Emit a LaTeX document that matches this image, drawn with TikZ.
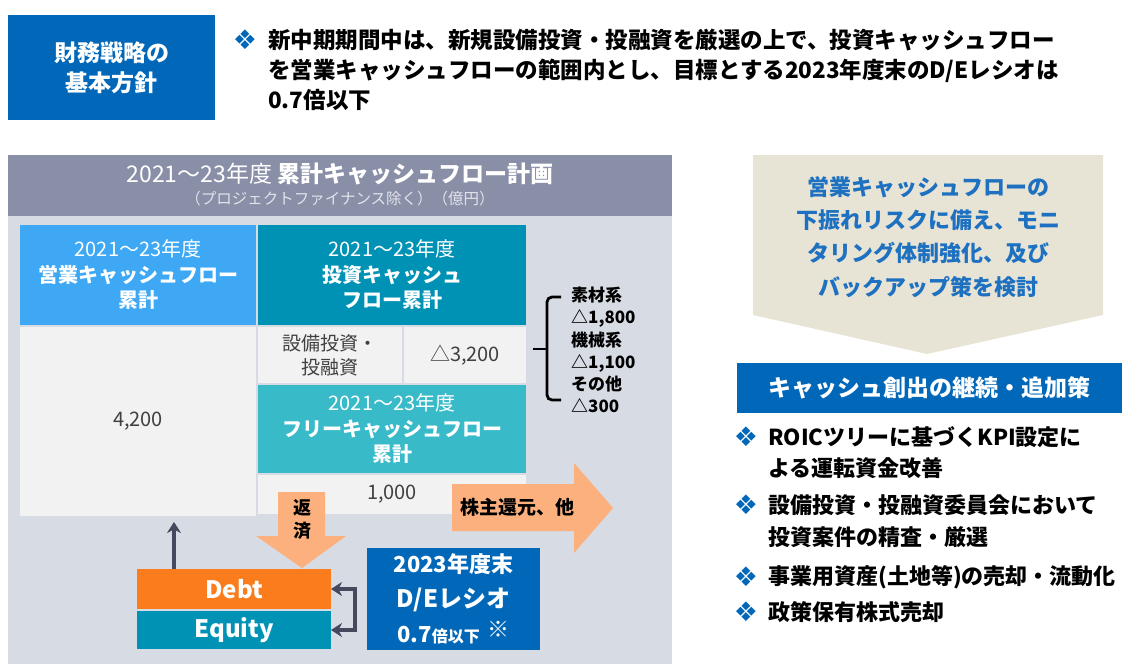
\documentclass[tikz,border=0pt]{standalone}
\usepackage{fontspec}
\setmainfont{Noto Sans CJK JP}
\newfontfamily\symfont{DejaVu Sans}
\usepackage{xcolor}
\usetikzlibrary{arrows.meta,positioning,calc}

\definecolor{mainblue}{RGB}{0,103,185}
\definecolor{panelgray}{RGB}{215,219,227}
\definecolor{headgray}{RGB}{138,143,168}
\definecolor{subgray}{RGB}{226,227,234}
\definecolor{opblue}{RGB}{62,168,245}
\definecolor{teal}{RGB}{0,146,180}
\definecolor{cyanbox}{RGB}{56,186,201}
\definecolor{cellgray}{RGB}{242,242,242}
\definecolor{valgray}{RGB}{64,64,64}
\definecolor{arrorange}{RGB}{251,176,125}
\definecolor{debtorange}{RGB}{250,124,28}
\definecolor{arrdark}{RGB}{69,73,94}
\definecolor{beige}{RGB}{232,228,213}
\definecolor{beigetext}{RGB}{30,112,192}

\begin{document}
\begin{tikzpicture}[
  x=1pt, y=-1pt,
  font=\fontsize{20}{26}\selectfont,
  >={Stealth[length=11pt, width=14pt]},
  cell/.style={anchor=north west, inner sep=0pt, outer sep=0pt, align=center},
  headbox/.style={cell, text=white, font=\fontsize{20}{25.5}\selectfont\bfseries},
  valbox/.style={cell, fill=cellgray, text=valgray},
  lbl/.style={inner sep=0pt, align=center},
  dia/.style={inner sep=0pt, text=mainblue, font=\symfont\fontsize{27}{27}\selectfont},
  item/.style={inner sep=0pt, anchor=west, align=left, font=\fontsize{22}{31.5}\selectfont\bfseries},
  darr/.style={line width=3.2pt, draw=arrdark},
  flowarrow/.style={fill=arrorange},
]
\useasboundingbox (0,0) rectangle (1124,664);
% 基本方針
\node[cell, fill=mainblue, text=white, minimum width=207pt, minimum height=105pt,
  font=\fontsize{23}{30}\selectfont\bfseries] (policy) at (8,15) {財務戦略の\\基本方針};
\node[dia] (pdia) at (245,40) {❖};
\node[item, font=\fontsize{22.5}{30}\selectfont\bfseries] (policytxt) at (268,70)
  {新中期期間中は、新規設備投資・投融資を厳選の上で、投資キャッシュフロー\\
   を営業キャッシュフローの範囲内とし、目標とする2023年度末のD/Eレシオは\\
   0.7倍以下};
% 累計キャッシュフロー計画
\node[cell, fill=panelgray, minimum width=664pt, minimum height=509pt] (panel) at (8,155) {};
\node[cell, fill=headgray, minimum width=664pt, minimum height=61pt] (planhead) at (8,155) {};
\node[lbl, text=white, font=\fontsize{23}{26}\selectfont] (plantitle) at (340,174)
  {2021～23年度 \textbf{累計キャッシュフロー計画}};
\node[lbl, text=subgray, font=\fontsize{15.5}{18}\selectfont, below=6pt of plantitle] (plansub)
  {（プロジェクトファイナンス除く）（億円）};
% 営業CF
\node[headbox, fill=opblue, minimum width=236pt, minimum height=100pt] (ophead) at (20,225)
  {{\mdseries 2021～23年度}\\営業キャッシュフロー\\累計};
\node[valbox, minimum width=236pt, minimum height=189pt] (opval) at (20,327) {4,200};
% 投資CF
\node[headbox, fill=teal, minimum width=268pt, minimum height=100pt] (invhead) at (258,225)
  {{\mdseries 2021～23年度}\\投資キャッシュ\\フロー累計};
\node[valbox, minimum width=144pt, minimum height=56pt, font=\fontsize{19}{24}\selectfont] (capexlbl) at (258,327)
  {設備投資・\\投融資};
\node[valbox, minimum width=122pt, minimum height=56pt] (capexval) at (404,327) {△3,200};
% フリーCF
\node[headbox, fill=cyanbox, minimum width=268pt, minimum height=88pt] (fcfhead) at (258,385)
  {{\mdseries 2021～23年度}\\フリーキャッシュフロー\\累計};
\node[valbox, minimum width=268pt, minimum height=39pt] (fcfval) at (258,475) {1,000};
% 内訳
\draw[line width=2.8pt, rounded corners=5pt] (561,297) -- (547,297) -- (547,400) -- (561,400);
\draw[line width=2.8pt] (547,349) -- (533,349);
\node[lbl, anchor=west, align=left, font=\fontsize{17}{22.3}\selectfont\bfseries] (breakdown) at (571,350)
  {素材系\\△1,800\\機械系\\△1,100\\その他\\△300};
% 株主還元・返済
\fill[flowarrow] (452,484) -- (574,484) -- (574,463) -- (613,508) -- (574,553) -- (574,531) -- (452,531) -- cycle;
\node[lbl, font=\fontsize{19}{24}\selectfont\bfseries] (ret) at (517,507) {株主還元、他};
\fill[flowarrow] (278,492) -- (325,492) -- (325,536) -- (346,536) -- (302,568) -- (256,536) -- (278,536) -- cycle;
\node[lbl, font=\fontsize{18}{23}\selectfont\bfseries] (repay) at (302,519) {返\\済};
% Debt / Equity
\node[cell, fill=debtorange, text=white, minimum width=194pt, minimum height=40pt,
  font=\fontsize{24}{28}\selectfont\bfseries] (debt) at (137,569) {Debt};
\node[cell, fill=teal, text=white, minimum width=194pt, minimum height=38pt,
  font=\fontsize{24}{28}\selectfont\bfseries] (equity) at (137,611) {Equity};
\coordinate (upx) at (174,0);
\coordinate (brk) at (355,0);
\draw[darr, ->] (debt.north -| upx) -- ([yshift=-6pt]opval.south -| upx);
\draw[darr, <->] (debt.east) -- (debt.east -| brk) -- (equity.east -| brk) -- (equity.east);
% D/Eレシオ
\node[cell, fill=mainblue, text=white, minimum width=173pt, minimum height=102pt,
  font=\fontsize{22}{35}\selectfont\bfseries] (deratio) at (367,548)
  {2023年度末\\{\fontsize{24}{35}\selectfont D/Eレシオ}\\
   0.7{\fontsize{16}{35}\selectfont 倍以下}\hspace{8pt}\raisebox{5pt}{\mdseries ※}};
% モニタリング
\fill[beige] (753,155) -- (1103,155) -- (1103,315) -- (927,354) -- (753,315) -- cycle;
\node[lbl, text=beigetext, font=\fontsize{22}{33.3}\selectfont\bfseries] (risk) at (928,237)
  {営業キャッシュフローの\\下振れリスクに備え、モニ\\タリング体制強化、及び\\バックアップ策を検討};
% 追加策
\node[cell, fill=mainblue, text=white, minimum width=385pt, minimum height=50pt,
  font=\fontsize{23}{28}\selectfont\bfseries] (actions) at (737,363) {キャッシュ創出の継続・追加策};
\node[dia] (d1) at (746,437) {❖};
\node[item] (a1) at (768,452.5) {ROICツリーに基づくKPI設定に\\よる運転資金改善};
\node[dia] (d2) at (746,505) {❖};
\node[item] (a2) at (768,521) {設備投資・投融資委員会において\\投資案件の精査・厳選};
\node[dia] (d3) at (746,577) {❖};
\node[item] (a3) at (768,577) {事業用資産(土地等)の売却・流動化};
\node[dia] (d4) at (746,612) {❖};
\node[item] (a4) at (768,612) {政策保有株式売却};
\end{tikzpicture}
\end{document}
